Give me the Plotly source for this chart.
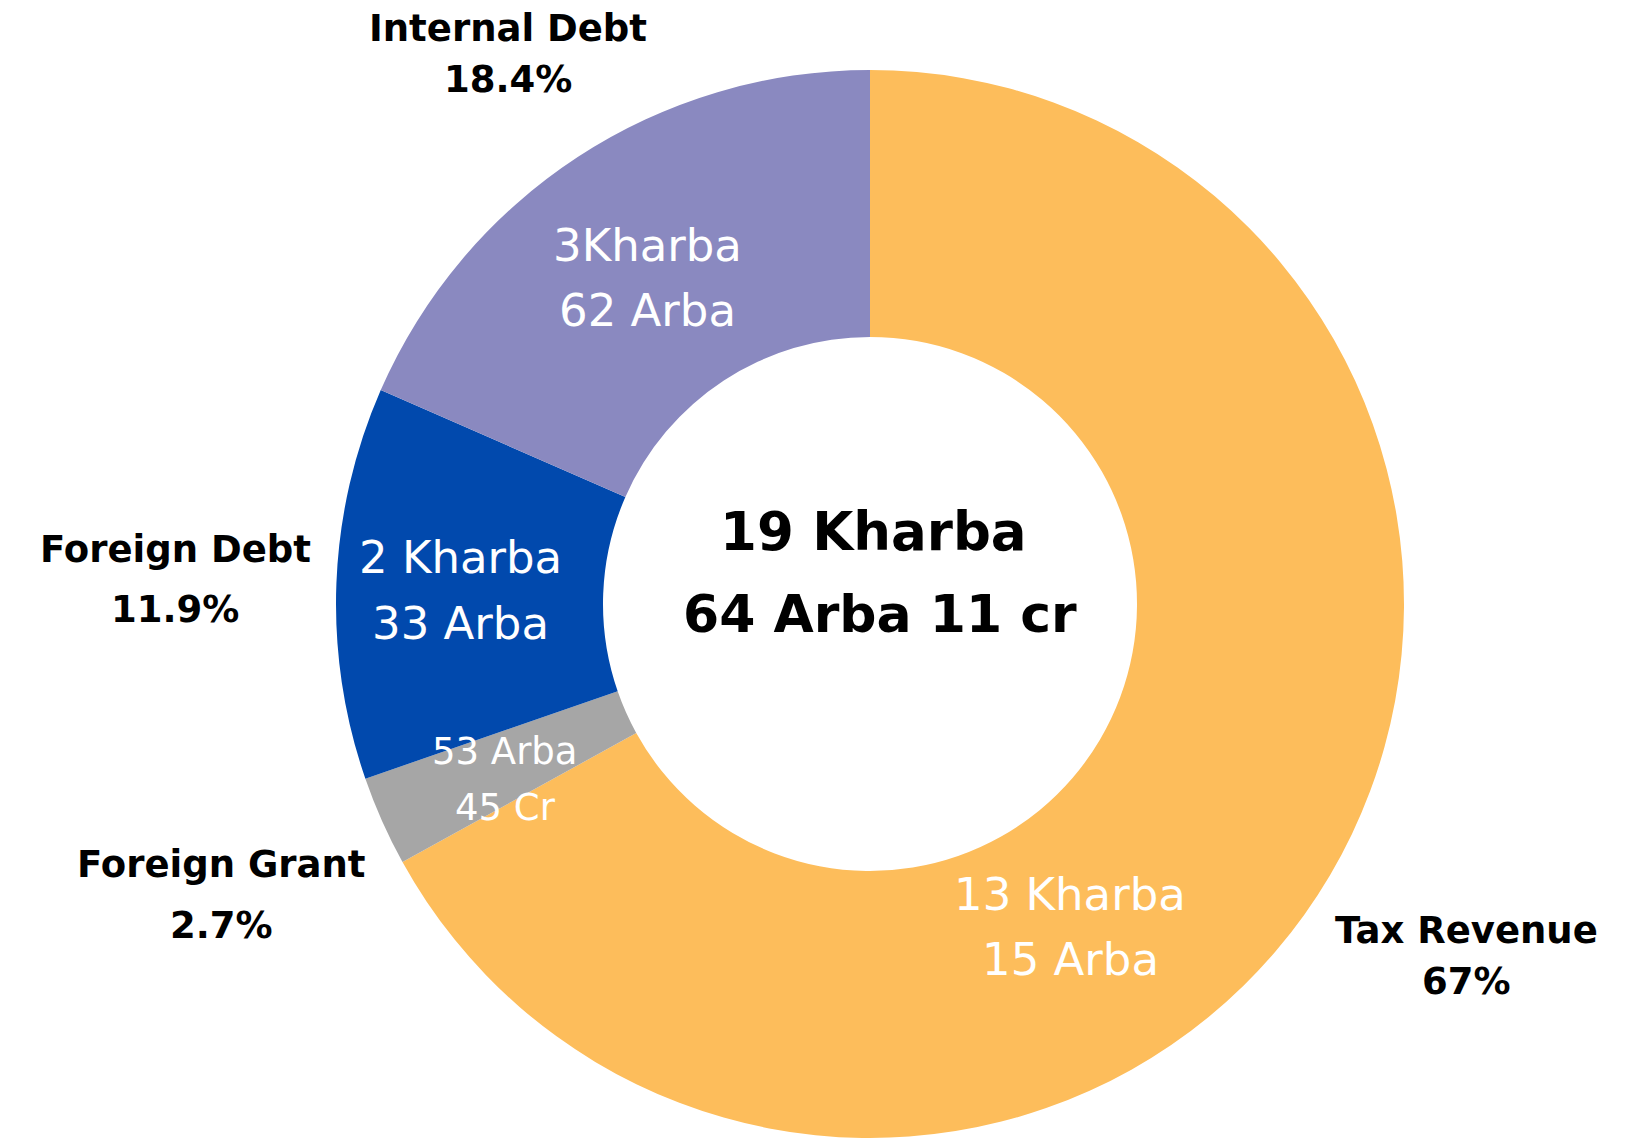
import plotly.graph_objects as go

# ---- data ----
categories = ["Tax Revenue", "Foreign Grant", "Foreign Debt", "Internal Debt"]
values_arba = [1315, 53.45, 233, 362]
percent_labels = ["67%", "2.7%", "11.9%", "18.4%"]
amount_line1 = ["13 Kharba", "53 Arba", "2 Kharba", "3Kharba"]
amount_line2 = ["15 Arba", "45 Cr", "33 Arba", "62 Arba"]
total_line1 = "19 Kharba"
total_line2 = "64 Arba 11 cr"

colors = ["#FDBD5B", "#A6A6A6", "#0149AD", "#8A89C0"]

W, H = 1633, 1147
OFF = 8  # page body margin
FONT = "DejaVu Sans"

cx, cy, R = 870 - OFF, 604 - OFF, 534

fig = go.Figure(go.Pie(
    labels=categories,
    values=values_arba,
    hole=0.5,
    sort=False,
    direction="clockwise",
    rotation=0,
    marker=dict(colors=colors, line=dict(width=0)),
    textinfo="none",
    hoverinfo="label+percent",
    showlegend=False,
    domain=dict(x=[(cx - R) / W, (cx + R) / W],
                y=[(H - cy - R) / H, (H - cy + R) / H]),
))

# label placement (page-pixel positions of text centres)
outer_pos = [((1466, 930), (1466, 981)),
             ((221, 864), (221, 925)),
             ((175, 549), (175, 609)),
             ((508, 29), (508, 80))]
inner_pos = [((1070, 894), (1070, 959)),
             ((505, 751), (505, 807)),
             ((461, 557), (461, 623)),
             ((647, 245), (647, 310))]
inner_size = [45, 37, 45, 45]

ann = []
def add(text, px, py, size, color, bold):
    t = f"<b>{text}</b>" if bold else text
    ann.append(dict(text=t, x=(px - OFF) / W, y=1 - (py - OFF) / H,
                    xref="paper", yref="paper",
                    showarrow=False, xanchor="center", yanchor="middle",
                    font=dict(family=FONT, size=size, color=color)))

for i, cat in enumerate(categories):
    (p1, p2) = outer_pos[i]
    add(cat, p1[0], p1[1], 37, "#000000", True)
    add(percent_labels[i], p2[0], p2[1], 37, "#000000", True)
    (q1, q2) = inner_pos[i]
    add(amount_line1[i], q1[0], q1[1], inner_size[i], "#FFFFFF", False)
    add(amount_line2[i], q2[0], q2[1], inner_size[i], "#FFFFFF", False)

add(total_line1, 873, 531, 53, "#000000", True)
add(total_line2, 880, 614, 52, "#000000", True)

fig.update_layout(
    width=W, height=H,
    margin=dict(l=0, r=0, t=0, b=0),
    paper_bgcolor="white", plot_bgcolor="white",
    annotations=ann,
)

fig.write_html("out.html")
